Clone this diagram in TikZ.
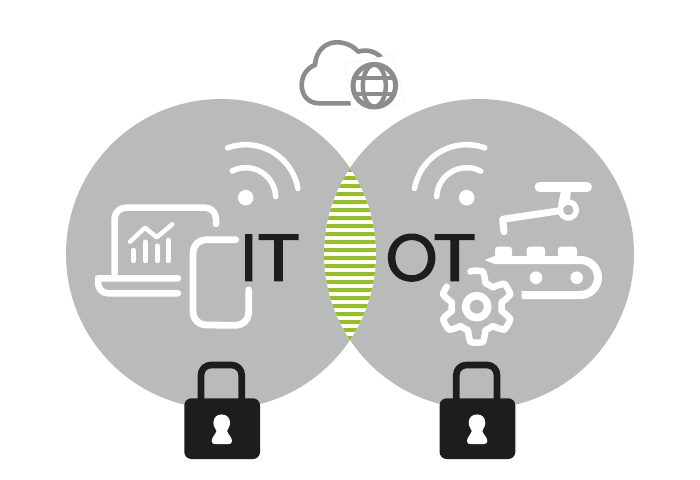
\documentclass[tikz,border=0pt]{standalone}
\usepackage{fontspec}
\newfontfamily\lab[FakeBold=2]{Poppins}
\newfontfamily\labwide[FakeBold=2,FakeStretch=1.24]{Poppins}
\definecolor{disc}{HTML}{B9BBBA}
\definecolor{leaf}{HTML}{95C11F}
\definecolor{ink}{HTML}{1D1D1B}
\definecolor{cloudgray}{HTML}{8C8C8C}
\usetikzlibrary{calc}
\tikzset{
  wh/.style={draw=white,line cap=round,line join=round,line width=#1},
  wh/.default=5.5,
  bigtext/.style={font=\fontsize{66}{66}\selectfont,text=ink,inner sep=0pt,anchor=base west},
  cl/.style={draw=cloudgray,line width=4.6,line cap=round,line join=round},
  lockpart/.style={draw=ink,line width=6.7,line join=round}
}
\newcommand{\padlock}[1]{%
  \begin{scope}[xshift=#1]
    \draw[lockpart] (201,400) -- (201,375) arc[start angle=180,end angle=270,radius=10] -- (231.7,365) arc[start angle=270,end angle=360,radius=10] -- (241.7,400);
    \fill[ink,rounded corners=7] (184.3,398.3) rectangle (260,459);
    \fill[white] (221.7,414.4) .. controls (216,414.4) and (213.4,418.5) .. (213.4,422.7)
      .. controls (213.4,427) and (216,429) .. (216.5,431)
      .. controls (215,435) and (211.7,437.5) .. (211.7,441)
      .. controls (211.7,443.5) and (213,444) .. (215,444)
      -- (228.5,444) .. controls (230.5,444) and (232,443.5) .. (232,441)
      .. controls (232,437.5) and (228.5,435) .. (227,431)
      .. controls (227.5,429) and (230,427) .. (230,422.7)
      .. controls (230,418.5) and (227.4,414.4) .. (221.7,414.4) -- cycle;
  \end{scope}}
\begin{document}
\begin{tikzpicture}[x=1pt,y=-1pt]
\useasboundingbox (0,0) rectangle (700,479);
\fill[white] (0,0) rectangle (700,479);
% discs
\fill[disc] (221,254) circle[radius=155];
\fill[disc] (479,254) circle[radius=155];
% lens
\begin{scope}
  \clip (221,254) circle[radius=155];
  \clip (479,254) circle[radius=155];
  \fill[white] (320,160) rectangle (380,350);
  \foreach \k in {0,...,21} \fill[leaf] (320,{168.2+8*\k}) rectangle (380,{171.8+8*\k});
\end{scope}
% cloud
\draw[cl] (350,103.3) -- (319,103.3) .. controls (308,103.3) and (301.7,95) .. (301.7,85)
  .. controls (301.7,74) and (309,67) .. (315,65)
  .. controls (316,50) and (326,42.3) .. (336.7,42.3)
  .. controls (347,42.3) and (354,47) .. (358.3,51.7)
  .. controls (366,49) and (376,51) .. (381.7,58.3);
\filldraw[fill=white,draw=black!4,line width=0.6] (345,63.5) -- (393,55) -- (405,103) -- (352,110) -- cycle;
\draw[cloudgray,line width=5] (374.3,85.7) circle[radius=21.3];
\draw[cloudgray,line width=4.4] (374.3,85.7) ellipse[x radius=11.5,y radius=21];
\draw[cloudgray,line width=4.4] (355,77.7) -- (393.6,77.7) (355,93.7) -- (393.6,93.7);
% IT wifi
\fill[white] (245.7,197.7) circle[radius=7.8];
\draw[wh] ($(245.7,197.7)+(-110:53)$) arc[start angle=-110,end angle=-10,radius=53];
\draw[wh] ($(245.7,197.7)+(-117:30)$) arc[start angle=-117,end angle=-2,radius=30];
% OT wifi
\fill[white] (466.7,197.7) circle[radius=7.8];
\draw[wh] ($(466.7,197.7)+(-70:53)$) arc[start angle=-70,end angle=-170,radius=53];
\draw[wh] ($(466.7,197.7)+(-62:30)$) arc[start angle=-62,end angle=-178,radius=30];
% laptop
\draw[wh=6.5] (114.5,273) -- (114.5,219) arc[start angle=180,end angle=270,radius=11.3] -- (205,207.7) arc[start angle=270,end angle=360,radius=11] -- (216,224);
\draw[wh=6.5] (178,278.3) -- (98,278.3) -- (98,283) arc[start angle=180,end angle=90,radius=10.3] -- (178,293.3);
% chart
\draw[wh=4.4] (130,241.7) -- (145,227.7) -- (156.7,237.3) -- (172.3,224.3);
\draw[wh=4.4] (133.3,250) -- (133.3,261) (145.3,241.7) -- (145.3,261) (157.3,245.7) -- (157.3,261) (168.3,240) -- (168.3,261);
% phone
\draw[wh=6.8] (235.7,239.7) -- (206,239.7) arc[start angle=270,end angle=180,radius=13] -- (193,312) arc[start angle=180,end angle=90,radius=13] -- (236,325.3) arc[start angle=90,end angle=0,radius=12.7] -- (248.7,290);
% IT / OT
\node[bigtext] (it) at (240.5,280.7) {\lab I\kern-0.5pt\labwide T};
\node[bigtext] (ot) at (385.5,280.7) {\lab O\kern-5pt\labwide T};
% robot arm
\draw[wh=9.3] (539.3,187) -- (587.3,187);
\fill[white] (561.5,188) -- (571.5,188) -- (569,205) -- (558,205) -- cycle;
\draw[wh=5.5] (568.3,210) circle[radius=8];
\draw[wh=7] (560,210.7) -- (502.7,219.3) -- (504,231.7);
% conveyor
\draw[white,line width=8,line join=round] (495,260) -- (580.5,260) arc[start angle=-90,end angle=90,radius=17.5] -- (521.7,295);
\fill[white] (484.5,260) -- (496,255.5) -- (496,264.5) -- cycle;
\foreach \a/\b in {495/512,526.7/545,558/577}
  \fill[white,rounded corners=3] (\a,258) -- (\a,246.7) -- (\b,246.7) -- (\b,258) -- cycle;
\fill[white] (536,277.7) circle[radius=6.3] (576.7,277.7) circle[radius=6.3];
% gear
\draw[wh=7.7] (476.7,306.7) circle[radius=11];
\draw[wh=6.5] plot[domain=-214:100,samples=240] ({476.7+(30.5+5.5*max(min(1.9*cos(6*(\x-90)),1),-1))*cos(\x)},{306.7-(30.5+5.5*max(min(1.9*cos(6*(\x-90)),1),-1))*sin(\x)});
% locks
\padlock{0pt}
\padlock{255.3pt}
\end{tikzpicture}
\end{document}
